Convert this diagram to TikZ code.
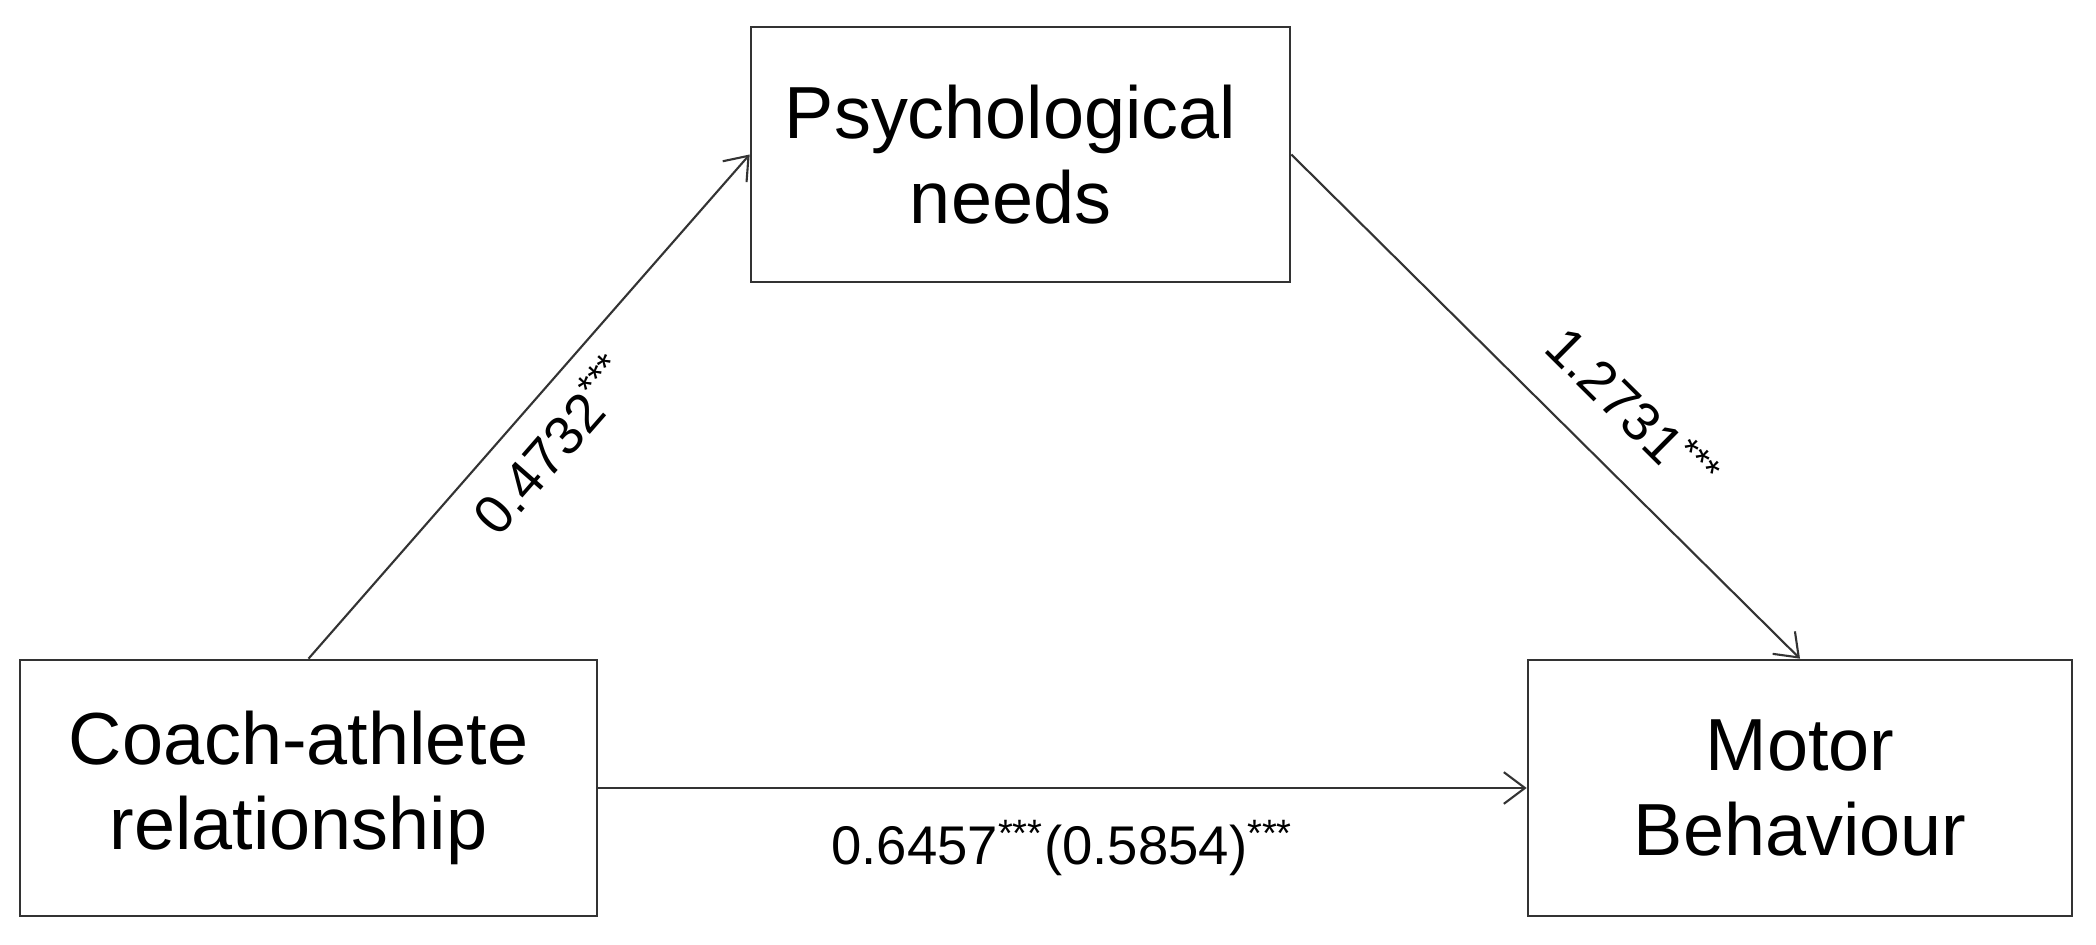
\documentclass[tikz,border=0pt]{standalone}
\usepackage{fontspec}
\setmainfont{Liberation Sans}
\usetikzlibrary{arrows.meta,calc}
\definecolor{linegray}{HTML}{333333}
\tikzset{
  varbox/.style={draw=linegray, line width=0.75pt, align=center, inner sep=0pt,
    font=\fontsize{21}{24}\selectfont},
  path/.style={draw=linegray, line width=0.6pt, -{Straight Barb[length=6pt,width=9pt,line width=0.6pt]}},
  coef/.style={font=\fontsize{15.5}{18}\selectfont, inner sep=0pt}
}
\begin{document}
\begin{tikzpicture}
\useasboundingbox (0,0) rectangle (20.96,9.44);
\node[varbox, minimum width=5.39cm, minimum height=2.55cm] (psych) at (10.205,7.895) {Psychological\hspace*{0.2cm}\\needs\hspace*{0.2cm}};
\node[varbox, minimum width=5.77cm, minimum height=2.56cm] (coach) at (3.085,1.56) {Coach-athlete\hspace*{0.2cm}\\relationship\hspace*{0.2cm}};
\node[varbox, minimum width=5.44cm, minimum height=2.56cm] (motor) at (18.00,1.56) {Motor\\Behaviour};
\draw[path] (coach.north) -- (psych.west);
\draw[path] (psych.east) -- (motor.north);
\draw[path] (coach.east) -- node[coef, midway, anchor=center, yshift=-0.6cm] (lc) {0.6457\textsuperscript{***}(0.5854)\textsuperscript{***}} (motor.west);
% labels placed on lines parallel to the connectors
\path ($(coach.north)!0.42cm!-90:(psych.west)$) -- ($(psych.west)!0.42cm!90:(coach.north)$)
  node[coef, sloped, pos=0.48] (la) {0.4732\textsuperscript{***}};
\path ($(psych.east)!0.6cm!90:(motor.north)$) -- ($(motor.north)!0.6cm!-90:(psych.east)$)
  node[coef, sloped, pos=0.59] (lb) {1.2731\textsuperscript{***}};
\end{tikzpicture}
\end{document}
